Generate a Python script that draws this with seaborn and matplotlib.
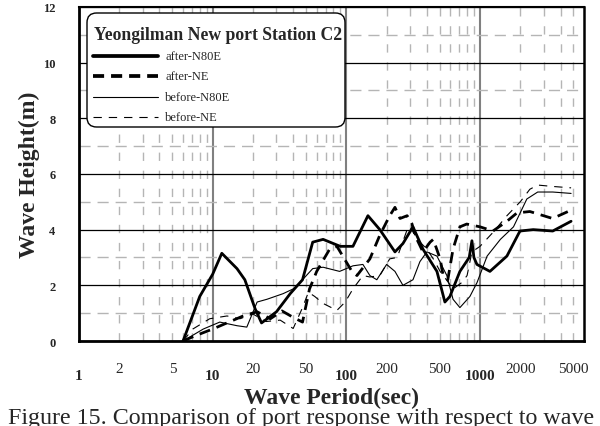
import numpy as np
import pandas as pd
import matplotlib
matplotlib.use("Agg")
import matplotlib.pyplot as plt
from matplotlib.ticker import FixedLocator, FuncFormatter, MultipleLocator, NullFormatter
from matplotlib.lines import Line2D
from matplotlib.patches import FancyBboxPatch
import seaborn as sns

# Wave period (sec) and wave height (m) for each case
after_n80e_T = [6, 8, 10, 11.7, 15.2, 17.4, 20.8, 23.2, 30, 38, 47, 56, 67, 90, 112, 145,
                178, 231, 265, 315, 374, 476, 546, 595, 707, 830, 870, 900, 948, 1186,
                1589, 1990, 2500, 3500, 4800]
after_n80e_H = [0, 1.6, 2.4, 3.15, 2.6, 2.2, 1.15, 0.65, 1.05, 1.7, 2.2, 3.55, 3.65, 3.4,
                3.4, 4.5, 4.0, 3.2, 3.5, 4.1, 3.3, 2.5, 1.4, 1.6, 2.5, 3.0, 3.6, 3.0, 2.75,
                2.5, 3.05, 3.95, 4.0, 3.95, 4.3]

after_ne_T = [6, 7.5, 10, 16.9, 21.5, 27, 33, 40, 47, 53, 60, 75, 85, 94, 110, 120, 150,
              178, 211, 231, 252, 285, 310, 326, 374, 423, 447, 503, 530, 574, 628, 707,
              795, 1000, 1250, 1590, 1890, 2360, 3490, 4800]
after_ne_H = [0, 0.2, 0.43, 0.9, 1.05, 0.8, 1.08, 0.85, 0.68, 1.87, 2.5, 3.3, 3.4, 3.05,
              2.5, 2.35, 2.95, 3.8, 4.5, 4.8, 4.4, 4.5, 4.2, 3.8, 3.2, 3.55, 3.65, 2.95,
              2.35, 2.2, 3.3, 4.1, 4.2, 4.1, 3.95, 4.3, 4.6, 4.65, 4.4, 4.7]

before_n80e_T = [6, 8.5, 11.3, 15.2, 18, 21.5, 25.5, 33.6, 40, 47, 56, 67, 89, 112, 133,
                 150, 169, 200, 231, 265, 315, 355, 400, 476, 565, 628, 707, 840, 950,
                 1130, 1420, 1780, 2240, 2700, 3500, 4800]
before_n80e_H = [0, 0.43, 0.68, 0.55, 0.5, 1.4, 1.5, 1.7, 1.87, 2.2, 2.6, 2.65, 2.5, 2.7,
                 2.75, 2.35, 2.2, 2.75, 2.5, 2.0, 2.2, 2.85, 3.2, 3.05, 2.35, 1.5, 1.2,
                 1.6, 2.1, 3.05, 3.65, 4.1, 5.1, 5.35, 5.35, 5.3]

before_ne_T = [6, 7.1, 9.5, 12.8, 16, 20, 25, 32, 40, 47, 52, 58, 67, 85, 98, 112, 133,
               150, 178, 211, 240, 285, 300, 340, 400, 447, 503, 560, 628, 730, 800, 870,
               1000, 1250, 1590, 2000, 2360, 2700, 3500, 4800]
before_ne_H = [0, 0.43, 0.8, 0.9, 0.8, 0.97, 0.7, 0.75, 0.45, 1.2, 1.75, 1.6, 1.35, 1.1,
               1.4, 1.87, 2.35, 2.3, 2.35, 2.95, 3.0, 4.0, 4.1, 3.65, 3.3, 2.95, 2.5, 2.2,
               1.87, 2.1, 2.35, 3.2, 3.4, 3.9, 4.5, 5.0, 5.45, 5.6, 5.55, 5.5]

series_names = ["after-N80E", "after-NE", "before-N80E", "before-NE"]
legend_title = "Yeongilman New port Station C2"

sns.set_style("white")
plt.rcParams["font.family"] = ["Liberation Serif", "DejaVu Serif"]
plt.rcParams["lines.scale_dashes"] = False

W, Hpx = 600, 427
fig = plt.figure(figsize=(W / 100, Hpx / 100), dpi=100)
ax = fig.add_axes([0.1317, 0.199, 0.8417, 0.7827])


def fx(px):
    return px / W


def fy(py):
    return 1 - py / Hpx


styles = [
    dict(lw=2.0, ls="-"),
    dict(lw=2.0, ls=(0, (8, 5))),
    dict(lw=0.8, ls="-"),
    dict(lw=0.8, ls=(0, (6, 5))),
]
data = [(after_n80e_T, after_n80e_H), (after_ne_T, after_ne_H),
        (before_n80e_T, before_n80e_H), (before_ne_T, before_ne_H)]

for name, (T, H), st in zip(series_names, data, styles):
    df = pd.DataFrame({"period": T, "height": H})
    sns.lineplot(data=df, x="period", y="height", ax=ax, color="black",
                 sort=False, estimator=None, linewidth=st["lw"], linestyle=st["ls"],
                 zorder=3)

ax.set_xscale("log")
ax.set_xlim(1, 6000)
ax.set_ylim(0, 12)

# x ticks: decades bold and lower, 2/5 multiples labelled in regular weight
decades = [1, 10, 100, 1000]
minor_pos = [m * d for d in decades for m in range(2, 10) if m * d < 6000]
ax.xaxis.set_major_locator(FixedLocator(decades))
ax.xaxis.set_major_formatter(FuncFormatter(lambda v, p: f"{int(v)}"))
ax.xaxis.set_minor_locator(FixedLocator(minor_pos))


def minor_label(v, p):
    lead = int(round(v / 10 ** np.floor(np.log10(v))))
    return f"{int(round(v))}" if lead in (2, 5) else ""


ax.xaxis.set_minor_formatter(FuncFormatter(minor_label))
ax.yaxis.set_major_locator(MultipleLocator(2))
ax.yaxis.set_minor_locator(MultipleLocator(1))
ax.yaxis.set_minor_formatter(NullFormatter())

ax.tick_params(axis="x", which="major", direction="out", length=16, width=1.5,
               color="#808080", labelsize=11, pad=4.5)
ax.tick_params(axis="x", which="minor", direction="inout", length=11, width=1.0,
               color="#606060", labelsize=11, pad=9.5)
ax.tick_params(axis="y", which="major", direction="out", length=8, width=1.2,
               color="black", labelsize=9, pad=9)
ax.tick_params(axis="y", which="minor", length=0)
for lab in ax.get_xticklabels(which="major") + ax.get_yticklabels():
    lab.set_fontweight("bold")

# grid lines
ax.xaxis.grid(True, which="major", color="#808080", lw=1.5, ls="-", zorder=1)
ax.yaxis.grid(True, which="major", color="black", lw=0.9, ls="-", zorder=1)
ax.xaxis.grid(True, which="minor", color="#b5b5b5", lw=1.0, ls=(0, (6, 7)), zorder=1)
ax.yaxis.grid(True, which="minor", color="#b5b5b5", lw=1.0, ls=(0, (8, 5)), zorder=1)
ax.set_axisbelow(True)

for side, w in [("left", 2.0), ("bottom", 2.0), ("top", 1.5), ("right", 1.8)]:
    ax.spines[side].set_visible(True)
    ax.spines[side].set_color("black")
    ax.spines[side].set_linewidth(w)

ax.set_xlabel("Wave Period(sec)", fontsize=17, fontweight="bold", labelpad=3)
ax.set_ylabel("Wave Height(m)", fontsize=17, fontweight="bold", labelpad=2)

# legend panel: rounded frame, bold title, four line samples
box_l, box_t, box_r, box_b = 87, 14, 345, 128
frame = FancyBboxPatch((fx(box_l), fy(box_b)), fx(box_r - box_l), (box_b - box_t) / Hpx,
                       boxstyle="round,pad=0,rounding_size=0.016",
                       transform=fig.transFigure, facecolor="white",
                       edgecolor="black", linewidth=1.0, zorder=5,
                       mutation_aspect=W / Hpx)
fig.add_artist(frame)
fig.text(fx(94), fy(36), legend_title, fontsize=12.7, fontweight="bold",
         ha="left", va="center", zorder=6)
row_y = [57, 77, 98, 118]
for name, st, ry in zip(series_names, styles, row_y):
    lw = st["lw"] * 1.35 if st["lw"] > 1 else st["lw"]
    fig.add_artist(Line2D([fx(93), fx(158)], [fy(ry), fy(ry)], color="black",
                          lw=lw, ls=st["ls"], transform=fig.transFigure, zorder=6))
    fig.text(fx(165), fy(ry), name, fontsize=9, ha="left", va="center", zorder=6)

fig.text(fx(8), 0.007, "Figure 15. Comparison of port response with respect to wave",
         fontsize=17.3, ha="left", va="baseline")

fig.savefig("out.png", dpi=100)
